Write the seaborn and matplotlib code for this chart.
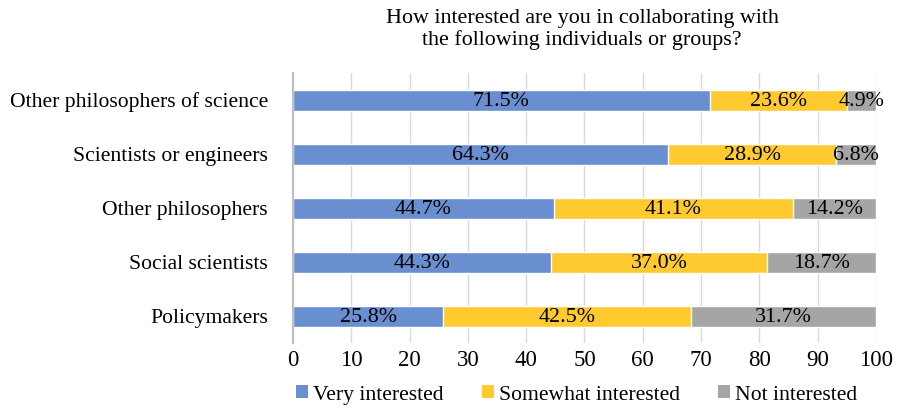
import numpy as np
import pandas as pd
import seaborn as sns
import matplotlib
matplotlib.use("Agg")
import matplotlib.pyplot as plt
from matplotlib.patches import Patch

categories = ["Other philosophers of science", "Scientists or engineers",
              "Other philosophers", "Social scientists", "Policymakers"]
very = [71.5, 64.3, 44.7, 44.3, 25.8]
somewhat = [23.6, 28.9, 41.1, 37.0, 42.5]
notint = [4.9, 6.8, 14.2, 18.7, 31.7]
series_names = ["Very interested", "Somewhat interested", "Not interested"]
colors = ["#6A8FD0", "#FFCA30", "#A5A5A5"]
xticks = [0, 10, 20, 30, 40, 50, 60, 70, 80, 90, 100]
title = "How interested are you in collaborating with\nthe following individuals or groups?"

sns.set_theme(style="white")
plt.rcParams["font.family"] = ["Liberation Serif", "DejaVu Serif"]
plt.rcParams["text.color"] = "black"
plt.rcParams["xtick.color"] = "black"
plt.rcParams["ytick.color"] = "black"
plt.rcParams["xtick.labelcolor"] = "black"
plt.rcParams["ytick.labelcolor"] = "black"

fig = plt.figure(figsize=(8.97, 4.08), dpi=100)
ax = fig.add_axes([0.3266, 0.159, 0.65, 0.662])

c1 = np.array(very)
c2 = c1 + np.array(somewhat)
c3 = c2 + np.array(notint)
df = pd.DataFrame({"cat": categories, "c1": c1, "c2": c2, "c3": c3})

for col, colr in zip(["c3", "c2", "c1"], colors[::-1]):
    sns.barplot(data=df, x=col, y="cat", orient="h", color=colr,
                width=0.39, saturation=1, ax=ax, zorder=3)

starts = [np.zeros(len(c1)), c1, c2]
vals = [very, somewhat, notint]
for s, v in zip(starts, vals):
    for i, (a, b) in enumerate(zip(s, v)):
        ax.text(a + b / 2, i + 0.02, f"{b:.1f}%", ha="center", va="center",
                fontsize=15.8, color="black", zorder=5)

ax.set_xlim(0, 100)
ax.set_ylim(4.5, -0.5)
ax.set_xticks(xticks)
ax.set_xticklabels([str(t) for t in xticks], fontsize=16.5, color="black")
ax.tick_params(axis="y", labelsize=15.6, length=0, pad=18, labelcolor="black")
ax.tick_params(axis="x", length=0, pad=5)
ax.set_xlabel("")
ax.set_ylabel("")
ax.xaxis.grid(True, color="#D9D9D9", linewidth=1, zorder=0)
ax.set_axisbelow(True)
for sp in ["top", "right", "bottom"]:
    ax.spines[sp].set_visible(False)
ax.spines["left"].set_color("#BFBFBF")
ax.spines["left"].set_linewidth(1.5)
ax.spines["left"].set_zorder(4)

fig.text(0.649, 0.928, title, ha="center", va="center", fontsize=15.8,
         linespacing=1.1, color="black")

handles = [Patch(facecolor=c, edgecolor="none") for c in colors]
leg = fig.legend(handles, series_names, loc="center", bbox_to_anchor=(0.643, 0.032),
                 ncol=3, frameon=False, fontsize=15.6, handlelength=0.55,
                 handleheight=0.55, handletextpad=0.25, columnspacing=1.75)
for t in leg.get_texts():
    t.set_color("black")

fig.savefig("out.png", dpi=100)
